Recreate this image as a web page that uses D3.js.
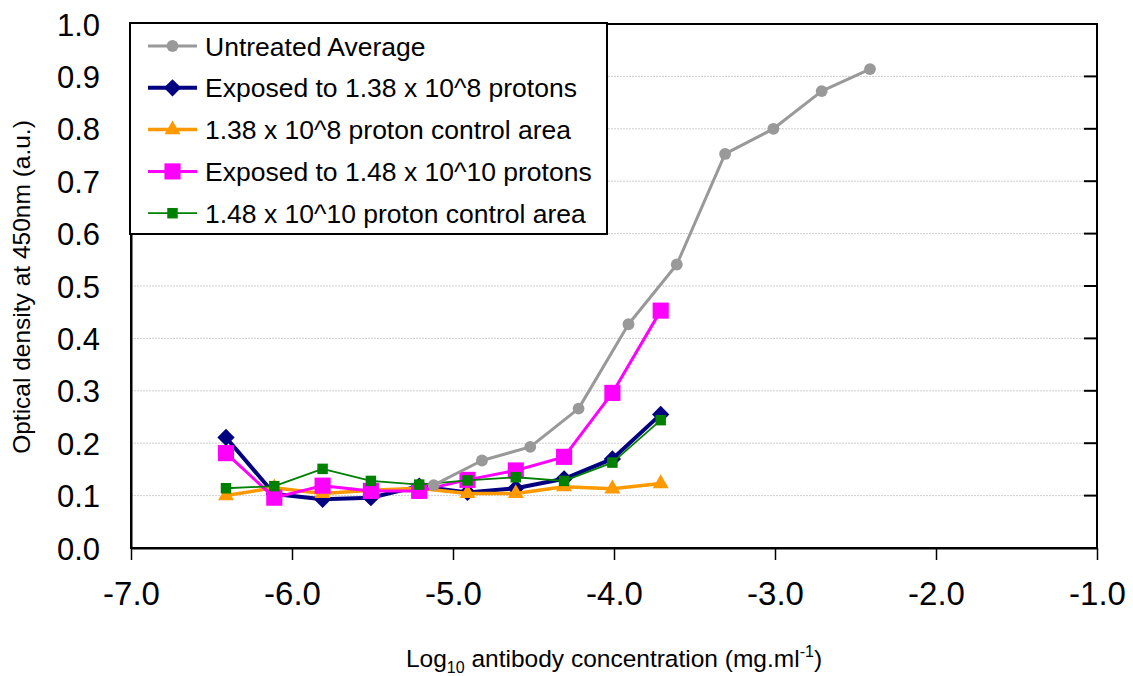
<!DOCTYPE html>
<html>
<head>
<meta charset="utf-8">
<script src="https://cdn.jsdelivr.net/npm/d3@7"></script>
<style>
  html, body { margin: 0; padding: 0; background: #fff; }
  svg { display: block; font-family: Arial, "Liberation Sans", sans-serif; }
</style>
</head>
<body>
<svg id="chart" width="1133" height="676"></svg>
<script>
// ---- data ----
const xUntreated = [-5.12, -4.82, -4.52, -4.22, -3.91, -3.61, -3.31, -3.01, -2.71, -2.41];
const yUntreated = [0.120, 0.167, 0.193, 0.266, 0.427, 0.541, 0.752, 0.800, 0.872, 0.914];

const xDilution = [-6.41, -6.11, -5.81, -5.51, -5.21, -4.91, -4.61, -4.31, -4.01, -3.71];
const yExposed138 = [0.211, 0.103, 0.093, 0.096, 0.118, 0.106, 0.114, 0.132, 0.170, 0.255];
const yControl138 = [0.100, 0.115, 0.104, 0.110, 0.114, 0.104, 0.104, 0.117, 0.113, 0.123];
const yExposed148 = [0.181, 0.096, 0.119, 0.109, 0.109, 0.130, 0.148, 0.174, 0.296, 0.453];
const yControl148 = [0.114, 0.118, 0.151, 0.128, 0.121, 0.129, 0.135, 0.128, 0.163, 0.244];

const seriesNames = [
  "Untreated Average",
  "Exposed to 1.38 x 10^8 protons",
  "1.38 x 10^8 proton control area",
  "Exposed to 1.48 x 10^10 protons",
  "1.48 x 10^10 proton control area"
];
const xTicks = [-7, -6, -5, -4, -3, -2, -1];
const yTicks = [0, 0.1, 0.2, 0.3, 0.4, 0.5, 0.6, 0.7, 0.8, 0.9, 1.0];

// ---- styles ----
const styles = [
  { color: "#999999", width: 3,   marker: "circle",   size: 110, rot: 0 },
  { color: "#000080", width: 4,   marker: "square",   size: 150, rot: 45 },
  { color: "#FF9900", width: 3.5, marker: "triangle", size: 110, rot: 0 },
  { color: "#FF00FF", width: 3,   marker: "square",   size: 260, rot: 0 },
  { color: "#008000", width: 1.8, marker: "square",   size: 110, rot: 0 }
];
const symbolType = { circle: d3.symbolCircle, triangle: d3.symbolTriangle, square: d3.symbolSquare };

const series = [
  { name: seriesNames[0], xs: xUntreated, ys: yUntreated, st: styles[0] },
  { name: seriesNames[1], xs: xDilution, ys: yExposed138, st: styles[1] },
  { name: seriesNames[2], xs: xDilution, ys: yControl138, st: styles[2] },
  { name: seriesNames[3], xs: xDilution, ys: yExposed148, st: styles[3] },
  { name: seriesNames[4], xs: xDilution, ys: yControl148, st: styles[4] }
];

const L = 131, R = 1097, T = 24, B = 548;
const svg = d3.select("#chart");
const x = d3.scaleLinear().domain([-7, -1]).range([L, R]);
const y = d3.scaleLinear().domain([0, 1]).range([B, T]);

// gridlines
svg.append("g").selectAll("line").data(yTicks.filter(v => v > 0 && v < 1)).join("line")
  .attr("x1", L).attr("x2", R).attr("y1", d => y(d)).attr("y2", d => y(d))
  .attr("stroke", "#cfcfcf").attr("stroke-width", 1).attr("stroke-dasharray", "2,1");

// right inward ticks
svg.append("g").selectAll("line").data(yTicks).join("line")
  .attr("x1", R - 13).attr("x2", R).attr("y1", d => y(d)).attr("y2", d => y(d))
  .attr("stroke", "#000").attr("stroke-width", 2);

// frame
svg.append("rect").attr("x", L).attr("y", T).attr("width", R - L).attr("height", B - T)
  .attr("fill", "none").attr("stroke", "#000").attr("stroke-width", 2);

// x axis
const xAxis = svg.append("g").attr("transform", `translate(0,${B})`)
  .call(d3.axisBottom(x).tickValues(xTicks).tickFormat(d3.format(".1f")).tickSize(12).tickSizeOuter(0));
xAxis.select(".domain").attr("stroke", "#000").attr("stroke-width", 2);
xAxis.selectAll(".tick line").attr("stroke", "#000").attr("stroke-width", 1.5);
xAxis.selectAll(".tick text").attr("font-size", 33).attr("fill", "#000")
  .attr("font-family", "Arial, 'Liberation Sans', sans-serif").attr("y", 34).attr("dy", "0.71em")
  .text(d => d3.format(".1f")(d).replace("−", "-"));

// y axis
const yAxis = svg.append("g").attr("transform", `translate(${L},0)`)
  .call(d3.axisLeft(y).tickValues(yTicks).tickFormat(d3.format(".1f")).tickSize(0).tickSizeOuter(0));
yAxis.select(".domain").attr("stroke", "#000").attr("stroke-width", 2);
yAxis.selectAll(".tick text").attr("font-size", 31).attr("fill", "#000")
  .attr("font-family", "Arial, 'Liberation Sans', sans-serif").attr("x", -31).attr("dy", "0.36em");

// axis titles
svg.append("text").attr("transform", `translate(30,287) rotate(-90)`)
  .attr("text-anchor", "middle").attr("font-size", 24.5).attr("fill", "#000")
  .text("Optical density at 450nm (a.u.)");

const xt = svg.append("text").attr("x", 614).attr("y", 667).attr("text-anchor", "middle")
  .attr("font-size", 24.5).attr("fill", "#000");
xt.append("tspan").text("Log");
xt.append("tspan").attr("font-size", 16).attr("dy", 6).text("10");
xt.append("tspan").attr("dy", -6).text(" antibody concentration (mg.ml");
xt.append("tspan").attr("font-size", 16).attr("dy", -10).text("-1");
xt.append("tspan").attr("dy", 10).text(")");

// series
const line = d3.line();
const drawOrder = [1, 2, 3, 4, 0];
drawOrder.forEach(i => {
  const s = series[i];
  const pts = s.xs.map((xv, j) => [x(xv), y(s.ys[j])]);
  const g = svg.append("g");
  g.append("path").attr("d", line(pts)).attr("fill", "none")
    .attr("stroke", s.st.color).attr("stroke-width", s.st.width).attr("stroke-linejoin", "round");
  g.selectAll("path.m").data(pts).join("path").attr("class", "m")
    .attr("transform", d => `translate(${d[0]},${d[1]}) rotate(${s.st.rot})`)
    .attr("d", d3.symbol().type(symbolType[s.st.marker]).size(s.st.size))
    .attr("fill", s.st.color);
});

// legend
const lg = svg.append("g");
lg.append("rect").attr("x", 130).attr("y", 23).attr("width", 477).attr("height", 211)
  .attr("fill", "#fff").attr("stroke", "#000").attr("stroke-width", 2);
series.forEach((s, i) => {
  const cy = 46 + i * 41.8;
  lg.append("line").attr("x1", 148).attr("x2", 197).attr("y1", cy).attr("y2", cy)
    .attr("stroke", s.st.color).attr("stroke-width", s.st.width);
  lg.append("path").attr("transform", `translate(172.5,${cy}) rotate(${s.st.rot})`)
    .attr("d", d3.symbol().type(symbolType[s.st.marker]).size(s.st.size)).attr("fill", s.st.color);
  lg.append("text").attr("x", 205).attr("y", cy).attr("dy", "0.36em")
    .attr("font-size", 26.5).attr("fill", "#000").text(s.name);
});
</script>
</body>
</html>
